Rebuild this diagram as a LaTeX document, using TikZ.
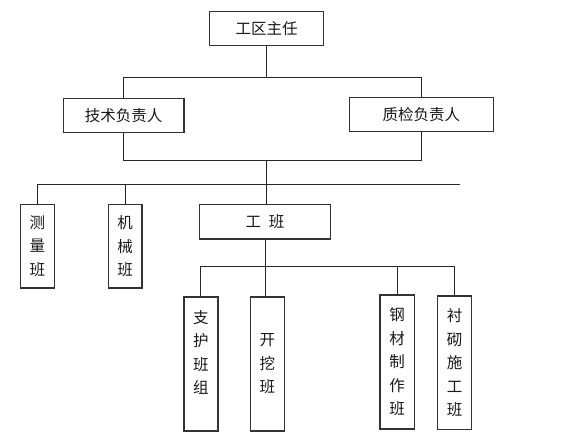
\documentclass[tikz,border=0pt]{standalone}
\usepackage{fontspec}
\newfontfamily\cjk{Noto Sans CJK SC}
\begin{document}
\begin{tikzpicture}[x=1pt,y=-1pt,
  box/.style={draw=black!80, line width=1.2pt, inner sep=0pt, align=center,
    font=\cjk\fontsize{15.5}{23.5}\selectfont, text=black!90},
  conn/.style={draw=black!85, line width=0.9pt}]
\useasboundingbox[fill=white] (0,0) rectangle (562,441);
% nodes
\node[box, minimum width=113.6pt, minimum height=34pt] (top) at (266.5,28.7) {工区主任};
\node[box, minimum width=120.5pt, minimum height=34pt] (jishu) at (123.65,115.7) {技术负责人};
\node[box, minimum width=143.7pt, minimum height=34pt] (zhijian) at (421.35,114.7) {质检负责人};
\node[box, minimum width=33.7pt, minimum height=83.7pt] (celiang) at (37.25,246.2) {测\\量\\班};
\node[box, minimum width=33.7pt, minimum height=83.7pt] (jixie) at (125.05,246.2) {机\\械\\班};
\node[box, minimum width=131.5pt, minimum height=34.7pt] (gongban) at (265.05,221.65) {工\hspace{0.5em}班};
\node[box, minimum width=34pt, minimum height=134pt] (zhihu) at (200.9,364) {支\\护\\班\\组\\\phantom{组}};
\node[box, minimum width=33.7pt, minimum height=134pt] (kaiwa) at (267.35,364) {开\\挖\\班};
\node[box, minimum width=34.4pt, minimum height=134pt] (gangcai) at (397.1,362) {钢\\材\\制\\作\\班};
\node[box, minimum width=34.1pt, minimum height=133.7pt] (chenqi) at (454.65,362.85) {衬\\砌\\施\\工\\班};
% bus coordinates
\coordinate (busA) at (0,77.3);
\coordinate (busB) at (0,160.3);
\coordinate (busC) at (0,184);
\coordinate (busEnd) at (459.5,184);
\coordinate (busD) at (0,266.3);
% connectors
\draw[conn] (top.south) -- (top.south |- busA);
\draw[conn] (jishu.north) -- (jishu.north |- busA) -- (zhijian.north |- busA) -- (zhijian.north);
\draw[conn] (jishu.south) -- (jishu.south |- busB) -- (zhijian.south |- busB) -- (zhijian.south);
\draw[conn] (top.south |- busB) -- (top.south |- busC);
\draw[conn] (celiang.north) -- (celiang.north |- busC) -- (busEnd);
\draw[conn] (jixie.north) -- (jixie.north |- busC);
\draw[conn] (top.south |- busC) -- (top.south |- gongban.north);
\draw[conn] (zhihu.north) -- (zhihu.north |- busD) -- (chenqi.north |- busD) -- (chenqi.north);
\draw[conn] (gongban.south) -- (gongban.south |- kaiwa.north);
\draw[conn] (gangcai.north) -- (gangcai.north |- busD);
\end{tikzpicture}
\end{document}
